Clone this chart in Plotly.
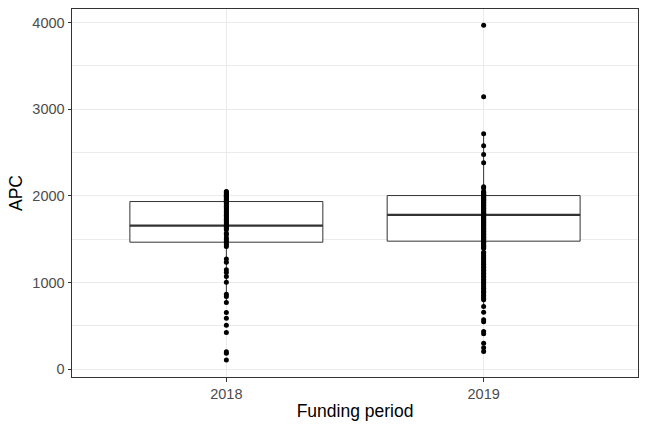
import plotly.graph_objects as go

years = ["2018", "2019"]

apc_2018 = [2050, 2045, 2035, 2025, 2015, 2005, 2000, 1995, 1985, 1975, 1965, 1955, 1945,
            1935, 1925, 1910, 1895, 1880, 1865, 1850, 1835, 1820, 1805, 1790, 1775, 1760,
            1745, 1730, 1715, 1700, 1690, 1675, 1660, 1650, 1640, 1625, 1610,
            1568, 1552, 1515, 1495, 1475, 1455, 1435, 1415,
            1270, 1235, 1146, 1115, 1069, 1004, 865, 838, 768, 653, 589, 508, 422,
            200, 185, 105]

apc_2019 = [3968, 3142, 2715, 2577, 2476, 2381, 2105, 2090,
            2050, 2042, 2033, 2025, 2018, 2010, 2000, 2000, 1997, 1990, 1982, 1975, 1968,
            1960, 1950, 1943, 1935, 1925, 1918, 1910, 1900, 1892, 1885, 1875, 1866, 1858,
            1850, 1840, 1832, 1824, 1815, 1806, 1798, 1790, 1780, 1772, 1763, 1755, 1746,
            1738, 1730, 1720, 1712, 1703, 1695, 1686, 1678, 1670, 1660, 1652, 1643, 1635,
            1626, 1618, 1610, 1600, 1592, 1583, 1575, 1566, 1558, 1550, 1540, 1532, 1523,
            1515, 1506, 1498, 1490, 1480, 1472, 1463, 1455, 1445, 1430, 1418, 1405, 1395,
            1350, 1335, 1312, 1295, 1278, 1262, 1243, 1226, 1210, 1192, 1176, 1158, 1140,
            1124, 1106, 1090, 1072, 1055, 1038, 1020, 1003, 987, 970, 952, 935, 918, 900,
            884, 866, 850, 832, 815, 800,
            722, 658, 569, 546, 434, 410, 300, 246, 203]

q1_vals = [1465, 1477]
median_vals = [1657, 1780]
q3_vals = [1934, 2003]
lower_whisker = [768, 722]
upper_whisker = [2050, 2715]

box_width = 0.75
dark = "#333333"
font_family = "Liberation Sans, Arial, sans-serif"

fig = go.Figure()

fig.add_trace(go.Box(
    x=[0, 1], q1=q1_vals, median=median_vals, q3=q3_vals,
    lowerfence=lower_whisker, upperfence=upper_whisker,
    boxpoints=False, width=box_width, whiskerwidth=0,
    fillcolor="white", line=dict(color=dark, width=1),
    showlegend=False, hoverinfo="skip"))

for i, m in enumerate(median_vals):
    fig.add_trace(go.Scatter(
        x=[i - box_width / 2, i + box_width / 2], y=[m, m], mode="lines",
        line=dict(color=dark, width=2.2), showlegend=False, hoverinfo="skip"))

for i, vals in enumerate([apc_2018, apc_2019]):
    fig.add_trace(go.Scatter(
        x=[i] * len(vals), y=vals, mode="markers",
        marker=dict(color="black", size=5, line=dict(width=0)),
        showlegend=False))

fig.update_layout(
    width=648, height=432,
    margin=dict(l=72, r=10, t=9, b=55, autoexpand=False),
    paper_bgcolor="white", plot_bgcolor="white",
    font=dict(family=font_family),
    showlegend=False,
)

fig.update_xaxes(
    automargin=False,
    range=[-0.6, 1.6], tickmode="array", tickvals=[0, 1], ticktext=years,
    showgrid=True, gridcolor="#EBEBEB", gridwidth=1,
    zeroline=False, showline=True, mirror=True, linecolor=dark, linewidth=1,
    ticks="outside", ticklen=3.5, tickwidth=1, tickcolor=dark,
    tickfont=dict(size=14.5, color="#4D4D4D", family=font_family),
    title=dict(text="Funding period", font=dict(size=17.5, color="black", family=font_family), standoff=3),
)

fig.update_yaxes(
    automargin=False,
    range=[-90, 4155], tickmode="array", tickvals=[0, 1000, 2000, 3000, 4000],
    showgrid=True, gridcolor="#EBEBEB", gridwidth=1,
    minor=dict(tickmode="array", tickvals=[500, 1500, 2500, 3500], showgrid=True,
               gridcolor="#EBEBEB", gridwidth=0.5, ticks=""),
    zeroline=False, showline=True, mirror=True, linecolor=dark, linewidth=1,
    ticks="outside", ticklen=3.5, tickwidth=1, tickcolor=dark,
    tickfont=dict(size=14.5, color="#4D4D4D", family=font_family),
    title=dict(text="APC", font=dict(size=17.5, color="black", family=font_family), standoff=5),
)

fig.write_html("out.html", config={"displayModeBar": False},
               post_script="document.body.style.margin='0';")
